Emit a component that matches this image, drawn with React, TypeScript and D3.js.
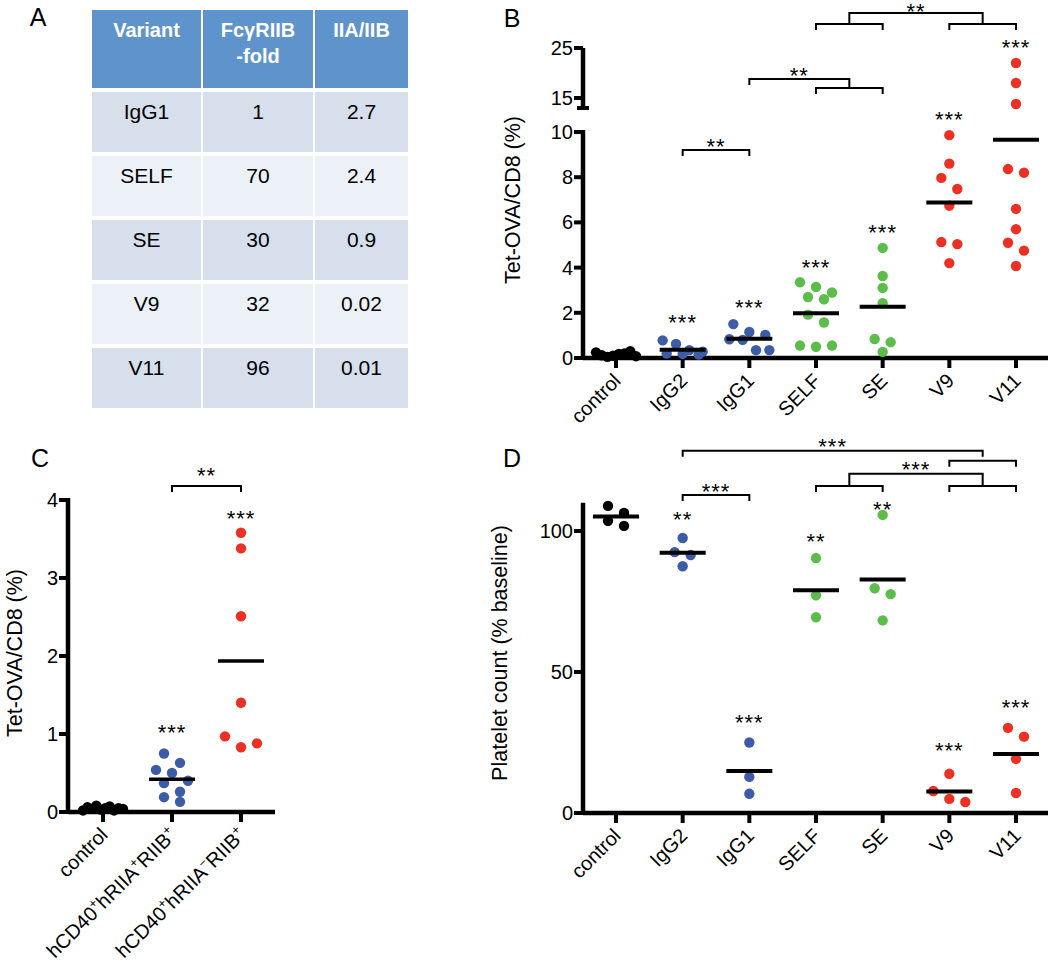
import React from 'react';
import * as d3 from 'd3';

const FONT = '"Liberation Sans", Arial, Helvetica, sans-serif';
const BLUE = '#3d5ca8';
const GREEN = '#5dbd4b';
const RED = '#ec3024';
const BLACK = '#000';

// ---- panel A: table ----
const tableHeader = ['Variant', 'FcγRIIB|-fold', 'IIA/IIB'];
const variants = ['IgG1', 'SELF', 'SE', 'V9', 'V11'];
const riibFold = ['1', '70', '30', '32', '96'];
const iiaIibRatio = ['2.7', '2.4', '0.9', '0.02', '0.01'];

// ---- panel B: Tet-OVA/CD8 (%) ----
const groupsB = ['control', 'IgG2', 'IgG1', 'SELF', 'SE', 'V9', 'V11'];
const colorsB = [BLACK, BLUE, BLUE, GREEN, GREEN, RED, RED];
const tetControlB = [0.25, 0.12, 0.05, 0.1, 0.18, 0.2, 0.3, 0.08];
const tetIgG2B = [0.78, 0.62, 0.35, 0.28, 0.2, 0.18, 0.15];
const tetIgG1B = [1.5, 1.15, 1.02, 0.83, 0.8, 0.35, 0.35];
const tetSelfB = [3.35, 3.14, 2.9, 2.7, 2.6, 1.92, 1.57, 0.55, 0.5, 0.55];
const tetSeB = [4.87, 3.63, 3.1, 2.43, 0.84, 0.7, 0.27];
const tetV9B = [9.86, 8.6, 7.97, 7.48, 6.74, 5.13, 5.04, 4.2];
const tetV11B = [22, 18, 13.8, 8.36, 8.2, 6.6, 5.7, 5.1, 4.75, 4.07];
const starsB = ['', '***', '***', '***', '***', '***', '***'];
const starLevelB = [0, 1.81, 2.48, 4.25, 5.8, 10.8, 26.2];
const ticksLowB = [0, 2, 4, 6, 8, 10];
const ticksHighB = [15, 25];
const bracketsB = [
  { left: [1], right: [2], level: 9.2, label: '**' },
  { left: [2], right: [3, 4], level: 18.8, sub: 17, label: '**' },
  { left: [3, 4], right: [5, 6], level: 32, sub: 29.8, label: '**', gap: 7 },
];

// ---- panel C ----
const groupsC = ['control', 'hCD40^+hRIIA^+RIIB^+', 'hCD40^+hRIIA^-RIIB^+'];
const colorsC = [BLACK, BLUE, RED];
const tetControlC = [0.02, 0.06, 0.04, 0.08, 0.03, 0.05, 0.07, 0.02, 0.05, 0.04];
const tetRiiaPosC = [0.75, 0.63, 0.54, 0.5, 0.4, 0.37, 0.26, 0.19, 0.13];
const tetRiiaNegC = [3.58, 3.38, 2.51, 1.4, 0.97, 0.83, 0.88];
const starsC = ['', '***', '***'];
const starLevelC = [0, 1.09, 3.83];
const ticksC = [0, 1, 2, 3, 4];
const bracketsC = [{ left: [1], right: [2], level: 4.18, label: '**', gap: 16 }];

// ---- panel D: platelet count ----
const groupsD = ['control', 'IgG2', 'IgG1', 'SELF', 'SE', 'V9', 'V11'];
const colorsD = colorsB;
const plateletControl = [108.9, 106.4, 103.6, 101.8];
const plateletIgG2 = [97.5, 92.5, 91.5, 87.5];
const plateletIgG1 = [25, 12.8, 6.8];
const plateletSelf = [90.4, 77.2, 69.4];
const plateletSe = [105.7, 79.7, 77.6, 68.3];
const plateletV9 = [13.9, 7.8, 5, 3.9];
const plateletV11 = [30.2, 27.1, 19.2, 7.1];
const starsD = ['', '**', '***', '**', '**', '***', '***'];
const starLevelD = [0, 106, 33.8, 98.2, 109.6, 23.8, 39.1];
const ticksD = [0, 50, 100];
const bracketsD = [
  { left: [1], right: [2], level: 112.8, label: '***' },
  { left: [1], right: [5, 6], level: 128.5, sub: 124.9, label: '***', open: true },
  { left: [3, 4], right: [5, 6], level: 120.3, sub: 116, label: '***' },
];

type Br = { left: number[]; right: number[]; level: number; sub?: number; label: string; gap?: number; open?: boolean };
type YFn = (v: number) => number;

// row-based scatter layout (Prism-like)
function swarm(vals: number[], y: YFn, step: number, maxHalf: number) {
  const pts = vals.map((v, i) => ({ v, i, py: y(v), dx: 0 })).sort((a, b) => a.py - b.py);
  let i = 0;
  while (i < pts.length) {
    let j = i;
    while (j + 1 < pts.length && pts[j + 1].py - pts[i].py < 11.5) j++;
    const row = pts.slice(i, j + 1).sort((a, b) => a.i - b.i);
    const n = row.length;
    const s = n > 1 ? Math.min(step, (2 * maxHalf) / (n - 1)) : 0;
    row.forEach((p, k) => { p.dx = (k - (n - 1) / 2) * s; });
    i = j + 1;
  }
  return pts;
}

function Stars({ x, y, text }: { x: number; y: number; text: string }) {
  // asterisk glyph sits ~0.58em above baseline
  return (
    <text x={x} y={y + 12.6} fontSize={22} textAnchor="middle" letterSpacing={1}>
      {text}
    </text>
  );
}

function Dots({ data, groups, colors, x, y, stars, starLevel, lineW }: any) {
  return (
    <g>
      {data.map((vals: number[], gi: number) => {
        const cx = x(groups[gi]) as number;
        const pts = swarm(vals, y, 16, 20);
        const m = d3.mean(vals) as number;
        return (
          <g key={gi}>
            {pts.map((p, k) => (
              <circle key={k} cx={cx + p.dx} cy={p.py} r={5.2} fill={colors[gi]} />
            ))}
            <line x1={cx - 23} x2={cx + 23} y1={y(m)} y2={y(m)} stroke="#000" strokeWidth={lineW} />
            {stars[gi] && <Stars x={cx} y={y(starLevel[gi])} text={stars[gi]} />}
          </g>
        );
      })}
    </g>
  );
}

function Brackets({ list, groups, x, y }: { list: Br[]; groups: string[]; x: any; y: YFn }) {
  return (
    <g fill="none" stroke="#000" strokeWidth={2}>
      {list.map((b, i) => {
        const yy = y(b.level);
        const side = (idx: number[]) => {
          if (idx.length === 1) return { cx: x(groups[idx[0]]) as number, foot: yy + 6, path: '' };
          const x1 = x(groups[idx[0]]) as number;
          const x2 = x(groups[idx[1]]) as number;
          const sy = y(b.sub as number);
          return { cx: (x1 + x2) / 2, foot: b.open ? yy + 6 : sy, path: `M${x1},${sy + 6}V${sy}H${x2}V${sy + 6}` };
        };
        const L = side(b.left);
        const R = side(b.right);
        return (
          <g key={i}>
            {L.path && <path d={L.path} />}
            {R.path && <path d={R.path} />}
            <path d={`M${L.cx},${L.foot}V${yy}H${R.cx}V${R.foot}`} />
            <g stroke="none" fill="#000">
              <Stars x={(L.cx + R.cx) / 2} y={yy - (b.gap ?? 9)} text={b.label} />
            </g>
          </g>
        );
      })}
    </g>
  );
}

function XLabel({ x, y, text }: { x: number; y: number; text: string }) {
  // '^' marks a one-character superscript
  const parts: { t: string; sup: boolean }[] = [];
  let buf = '';
  for (let i = 0; i < text.length; i++) {
    if (text[i] === '^') {
      if (buf) parts.push({ t: buf, sup: false });
      buf = '';
      parts.push({ t: text[i + 1] === '-' ? '−' : text[i + 1], sup: true });
      i++;
    } else buf += text[i];
  }
  if (buf) parts.push({ t: buf, sup: false });
  let shifted = false;
  return (
    <text transform={`translate(${x + 6},${y + 24}) rotate(-45)`} fontSize={20} textAnchor="end">
      {parts.map((p, i) => {
        let dy = 0;
        if (p.sup && !shifted) { dy = -8; shifted = true; }
        else if (!p.sup && shifted) { dy = 8; shifted = false; }
        return (
          <tspan key={i} dy={dy} fontSize={p.sup ? 13 : 20}>{p.t}</tspan>
        );
      })}
    </text>
  );
}

function YTicks({ ticks, y, ax }: { ticks: number[]; y: YFn; ax: number }) {
  return (
    <g>
      {ticks.map((t) => (
        <g key={t}>
          <line x1={ax - 9} x2={ax} y1={y(t)} y2={y(t)} stroke="#000" strokeWidth={4} />
          <text x={ax - 10} y={y(t)} dy="0.35em" fontSize={20} textAnchor="end">{t}</text>
        </g>
      ))}
    </g>
  );
}

function XAxis({ groups, x, ay, x0, x1 }: any) {
  return (
    <g>
      <line x1={x0} x2={x1} y1={ay} y2={ay} stroke="#000" strokeWidth={4.5} />
      {groups.map((g: string) => (
        <g key={g}>
          <line x1={x(g)} x2={x(g)} y1={ay} y2={ay + 10} stroke="#000" strokeWidth={4} />
          <XLabel x={x(g)} y={ay} text={g} />
        </g>
      ))}
    </g>
  );
}

function TableA() {
  const cols = [[92, 109], [203, 110], [315, 93]];
  const rowTop = (i: number) => 92 + i * 64;
  const body = [variants, riibFold, iiaIibRatio];
  return (
    <g>
      {cols.map(([cx, cw], ci) => (
        <g key={ci}>
          <rect x={cx} y={10} width={cw} height={78} fill="#5e94cb" />
          {tableHeader[ci].split('|').map((t, li) => (
            <text key={li} x={cx + cw / 2} y={37 + li * 26} fontSize={20} fontWeight="bold" fill="#fff" textAnchor="middle">{t}</text>
          ))}
          {variants.map((_, ri) => (
            <g key={ri}>
              <rect x={cx} y={rowTop(ri)} width={cw} height={60} fill={ri % 2 === 0 ? '#d6dfeb' : '#ecf1f8'} />
              <text x={cx + cw / 2} y={rowTop(ri) + 27} fontSize={21} textAnchor="middle">{body[ci][ri]}</text>
            </g>
          ))}
        </g>
      ))}
    </g>
  );
}

function PanelB() {
  const ax = 583, ay = 358;
  const x = d3.scalePoint(groupsB, [616, 1016]);
  const low = d3.scaleLinear([0, 10], [ay, 132]);
  const high = d3.scaleLinear([15, 25], [98, 48]);
  const y: YFn = (v) => (v > 12 ? high(v) : low(v));
  const data = [tetControlB, tetIgG2B, tetIgG1B, tetSelfB, tetSeB, tetV9B, tetV11B];
  return (
    <g>
      <line x1={ax} x2={ax} y1={high(25)} y2={high(13)} stroke="#000" strokeWidth={4.5} />
      <line x1={ax - 6} x2={ax + 6} y1={high(13)} y2={high(13)} stroke="#000" strokeWidth={4} />
      <line x1={ax} x2={ax} y1={low(10) - 2} y2={ay + 2} stroke="#000" strokeWidth={4.5} />
      <YTicks ticks={ticksLowB} y={low} ax={ax} />
      <YTicks ticks={ticksHighB} y={high} ax={ax} />
      <text transform={`translate(512,200) rotate(-90)`} fontSize={21.5} textAnchor="middle" dy="0.35em">Tet-OVA/CD8 (%)</text>
      <XAxis groups={groupsB} x={x} ay={ay} x0={ax} x1={1048} />
      <Dots data={data} groups={groupsB} colors={colorsB} x={x} y={y} stars={starsB} starLevel={starLevelB} lineW={4} />
      <Brackets list={bracketsB} groups={groupsB} x={x} y={y} />
    </g>
  );
}

function PanelC() {
  const ax = 68, ay = 812;
  const x = d3.scalePoint(groupsC, [103, 241]);
  const y = d3.scaleLinear([0, 4], [ay, 500]);
  const data = [tetControlC, tetRiiaPosC, tetRiiaNegC];
  return (
    <g>
      <line x1={ax} x2={ax} y1={y(4) - 2} y2={ay + 2} stroke="#000" strokeWidth={4.5} />
      <YTicks ticks={ticksC} y={y} ax={ax} />
      <text transform={`translate(14,653) rotate(-90)`} fontSize={21.5} textAnchor="middle" dy="0.35em">Tet-OVA/CD8 (%)</text>
      <XAxis groups={groupsC} x={x} ay={ay} x0={ax} x1={275} />
      <Dots data={data} groups={groupsC} colors={colorsC} x={x} y={y} stars={starsC} starLevel={starLevelC} lineW={3.5} />
      <Brackets list={bracketsC} groups={groupsC} x={x} y={y} />
    </g>
  );
}

function PanelD() {
  const ax = 583, ay = 813;
  const x = d3.scalePoint(groupsD, [616, 1016]);
  const y = d3.scaleLinear([0, 100], [ay, 531]);
  const data = [plateletControl, plateletIgG2, plateletIgG1, plateletSelf, plateletSe, plateletV9, plateletV11];
  return (
    <g>
      <line x1={ax} x2={ax} y1={y(110)} y2={ay + 2} stroke="#000" strokeWidth={4.5} />
      <YTicks ticks={ticksD} y={y} ax={ax} />
      <text transform={`translate(499,653) rotate(-90)`} fontSize={21.5} textAnchor="middle" dy="0.35em">Platelet count (% baseline)</text>
      <XAxis groups={groupsD} x={x} ay={ay} x0={ax} x1={1048} />
      <Dots data={data} groups={groupsD} colors={colorsD} x={x} y={y} stars={starsD} starLevel={starLevelD} lineW={4} />
      <Brackets list={bracketsD} groups={groupsD} x={x} y={y} />
    </g>
  );
}

export default function App() {
  return (
    <svg width={1050} height={979} fontFamily={FONT} style={{ position: 'absolute', left: 0, top: 0, background: '#fff' }}>
      <TableA />
      <text x={38} y={26} fontSize={25} textAnchor="middle">A</text>
      <text x={512} y={27} fontSize={25} textAnchor="middle">B</text>
      <text x={40} y={467} fontSize={25} textAnchor="middle">C</text>
      <text x={512} y={467} fontSize={25} textAnchor="middle">D</text>
      <PanelB />
      <PanelC />
      <PanelD />
    </svg>
  );
}
